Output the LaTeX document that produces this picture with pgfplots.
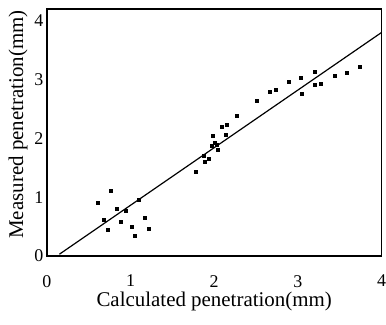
\documentclass[border=0pt]{standalone}
\usepackage{fontspec}
\setmainfont{Liberation Serif}
\usepackage{pgfplots}
\pgfplotsset{compat=1.18}
\begin{document}
\begin{tikzpicture}
\begin{axis}[
  scale only axis,
  width=336pt, height=248pt,
  xmin=0, xmax=4, ymin=0, ymax=4.2,
  xtick={0,1,2,3,4}, ytick={0,1,2,3,4},
  major tick length=0pt,
  axis line style={line width=1.6pt},
  /pgf/number format/assume math mode=true,
  tick label style={font=\fontsize{18}{20}\selectfont},
  xticklabel style={inner sep=0pt, anchor=north, yshift=-19pt},
  label style={font=\fontsize{21}{24}\selectfont},
  xlabel={Calculated penetration(mm)},
  ylabel={Measured penetration(mm)},
  xlabel style={at={(axis description cs:0.5,0)}, anchor=north, inner sep=0pt, yshift=-36pt},
  ylabel style={xshift=8pt},
  clip=false,
]
\addplot[only marks, mark=square*, mark size=1.5pt, black] coordinates {
(0.609,0.898) (0.768,1.107) (0.681,0.61) (0.732,0.446) (0.840,0.808)
(0.888,0.588) (0.939,0.768) (1.011,0.497) (1.055,0.339) (1.099,0.949)
(1.166,0.649) (1.218,0.463)
(1.775,1.44) (1.882,1.605) (1.938,1.656) (1.875,1.70) (1.986,2.04)
(1.974,1.87) (2.026,1.90) (2.046,1.81) (2.01,1.93) (2.093,2.19)
(2.145,2.24) (2.133,2.07) (2.265,2.38) (2.504,2.64) (2.663,2.80)
(2.730,2.82) (2.885,2.96) (3.04,3.03) (3.045,2.76) (3.196,3.14)
(3.2,2.92) (3.275,2.93) (3.435,3.06) (3.586,3.11) (3.737,3.22)
};
\addplot[black, line width=1.2pt] coordinates {(0.15,0.03) (4,3.8)};
\end{axis}
\path ([shift={(-47pt,-69pt)}]current axis.south west) rectangle ([shift={(3pt,9pt)}]current axis.north east);
\end{tikzpicture}
\end{document}
